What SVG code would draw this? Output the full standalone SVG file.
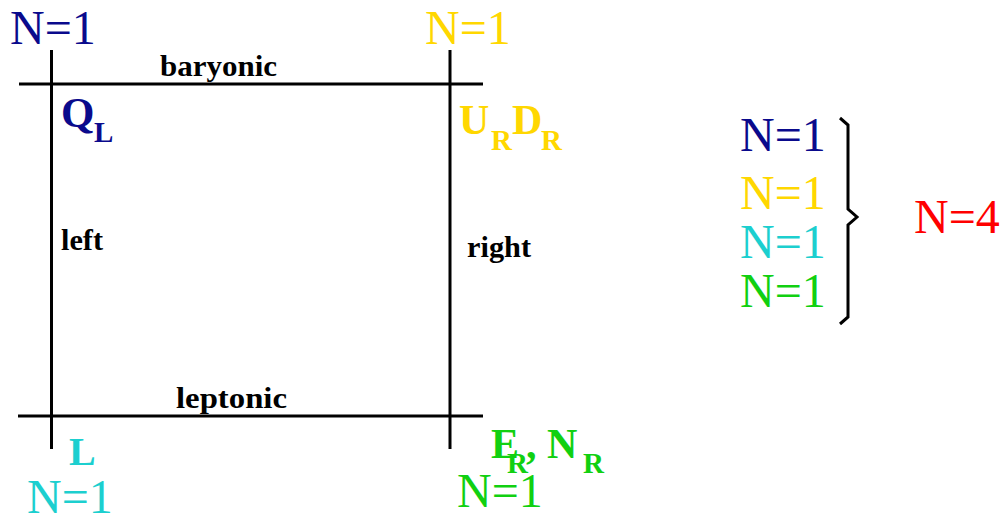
<svg xmlns="http://www.w3.org/2000/svg" width="1005" height="519" viewBox="0 0 1005 519">
<style>
text{font-family:"Liberation Serif","Times New Roman",serif}
.n{font-size:48px}
.b{font-weight:bold}
.lbl{font-size:30px;font-weight:bold;fill:#000}
.line{stroke:#000;stroke-width:3;fill:none}
.navy{fill:#0a0a8c}
.yel{fill:#ffd700}
.cyan{fill:#1ccfcf}
.grn{fill:#11d011}
.red{fill:#ff0000}
</style>
<rect width="1005" height="519" fill="#fff"/>
<g id="connectors">
<line class="line" x1="51.5" y1="50" x2="51.5" y2="449"/>
<line class="line" x1="450" y1="50" x2="450" y2="449"/>
<line class="line" x1="19" y1="84" x2="483" y2="84"/>
<line class="line" x1="18" y1="416" x2="483" y2="416"/>
</g>
<g id="labels-edges">
<text class="lbl" x="160" y="76" textLength="117" lengthAdjust="spacingAndGlyphs">baryonic</text>
<text class="lbl" x="176" y="408" textLength="111" lengthAdjust="spacingAndGlyphs">leptonic</text>
<text class="lbl" x="61" y="250" textLength="42" lengthAdjust="spacingAndGlyphs">left</text>
<text class="lbl" x="467" y="257" textLength="64" lengthAdjust="spacingAndGlyphs">right</text>
</g>
<g id="node-QL">
<text class="n navy" x="10" y="44">N=1</text>
<text class="b navy" x="61" y="127" font-size="43">Q</text>
<text class="b navy" x="94" y="142" font-size="29">L</text>
</g>
<g id="node-URDR">
<text class="b yel" x="459" y="134" font-size="42">U</text>
<text class="b yel" x="491" y="150" font-size="29">R</text>
<text class="b yel" x="512" y="134" font-size="42">D</text>
<text class="b yel" x="541" y="150" font-size="29">R</text>
<text class="n yel" x="425" y="44">N=1</text>
</g>
<g id="node-L">
<text class="b cyan" x="69" y="465" font-size="40">L</text>
<text class="n cyan" x="27" y="513">N=1</text>
</g>
<g id="node-ERNR">
<text class="b grn" x="491" y="458" font-size="42">E</text>
<text class="b grn" x="507" y="473" font-size="29">R</text>
<text class="b grn" x="526" y="458" font-size="42">,</text>
<text class="b grn" x="547" y="458" font-size="42">N</text>
<text class="b grn" x="583" y="473" font-size="29">R</text>
<text class="n grn" x="457" y="507">N=1</text>
</g>
<g id="node-sum">
<text class="n navy" x="740" y="151">N=1</text>
<text class="n yel" x="740" y="209">N=1</text>
<text class="n cyan" x="740" y="258">N=1</text>
<text class="n grn" x="740" y="307">N=1</text>
<path class="line" d="M840 118 L848 125 L848 209 L857 217 L848 225 L848 317 L840 324"/>
<text class="n red" x="914" y="233">N=4</text>
</g>
</svg>
